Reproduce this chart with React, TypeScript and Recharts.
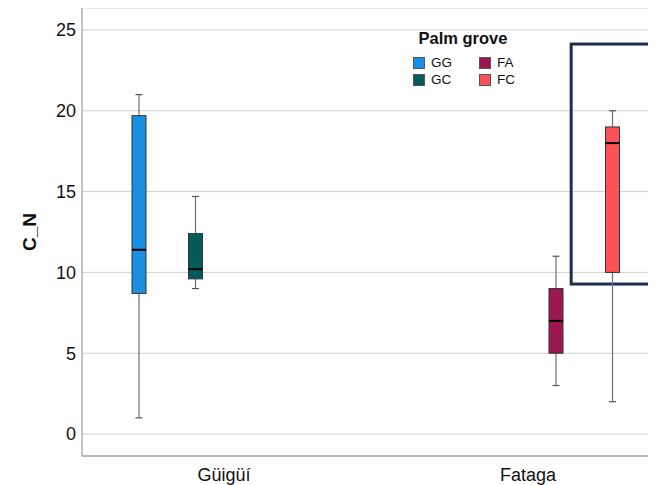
import React from "react";
import {
  ComposedChart,
  Bar,
  XAxis,
  YAxis,
  CartesianGrid,
  ReferenceArea,
} from "recharts";

const sites = ["Güigüí", "Fataga"];
const groves = ["GG", "GC", "FA", "FC"];
const groveSite = ["Güigüí", "Güigüí", "Fataga", "Fataga"];
const minVals = [1, 9, 3, 2];
const q1Vals = [8.7, 9.6, 5, 10];
const medianVals = [11.4, 10.2, 7, 18];
const q3Vals = [19.7, 12.4, 9, 19];
const maxVals = [21, 14.7, 11, 20];
const groveColors = ["#1a8fe3", "#055a5b", "#9c1652", "#fb5157"];
const yTicks = [0, 5, 10, 15, 20, 25];

// highlight frame drawn on the original figure (starts part way into the Fataga band)
const frameSite = "Fataga";
const frameStart = 0.642;
const frameY = [9.28, 24.13];

const FONT = "Arial, 'Liberation Sans', sans-serif";

type BoxStats = { min: number; q1: number; med: number; q3: number; max: number; box: [number, number] };

const data = sites.map((site) => {
  const row: Record<string, any> = { site };
  groves.forEach((g, i) => {
    if (groveSite[i] === site) {
      row[g] = {
        min: minVals[i],
        q1: q1Vals[i],
        med: medianVals[i],
        q3: q3Vals[i],
        max: maxVals[i],
        box: [q1Vals[i], q3Vals[i]],
      } as BoxStats;
    }
  });
  return row;
});

const makeBoxShape = (grove: string, color: string) => (props: any) => {
  const { x, y, width, height, payload } = props;
  const s: BoxStats | undefined = payload?.[grove];
  if (!s || !height) return <g />;
  const top = Math.min(y, y + height);
  const h = Math.abs(height);
  const k = h / (s.q3 - s.q1);
  const toY = (v: number) => top + (s.q3 - v) * k;
  const cx = x + width / 2;
  const cap = 3.5;
  return (
    <g>
      <line x1={cx} x2={cx} y1={toY(s.max)} y2={top} stroke="#707070" strokeWidth={1.2} />
      <line x1={cx} x2={cx} y1={top + h} y2={toY(s.min)} stroke="#707070" strokeWidth={1.2} />
      <line x1={cx - cap} x2={cx + cap} y1={toY(s.max)} y2={toY(s.max)} stroke="#555" strokeWidth={1.2} />
      <line x1={cx - cap} x2={cx + cap} y1={toY(s.min)} y2={toY(s.min)} stroke="#555" strokeWidth={1.2} />
      <rect x={x} y={top} width={width} height={h} fill={color} stroke="#333" strokeWidth={1} />
      <line x1={x} x2={x + width} y1={toY(s.med)} y2={toY(s.med)} stroke="#000" strokeWidth={2} />
    </g>
  );
};

const FrameShape = (props: any) => {
  const { x, y, width, height } = props;
  const left = x + width * frameStart;
  return (
    <rect
      x={left}
      y={y}
      width={x + width - left + 20}
      height={height}
      fill="none"
      stroke="#1f2d52"
      strokeWidth={3}
    />
  );
};

const GroveLegend = () => {
  const cols = [
    [0, 1],
    [2, 3],
  ];
  return (
    <div style={{ position: "absolute", left: 405, top: 21, width: 100, fontFamily: FONT, color: "#111" }}>
      <div style={{ fontWeight: "bold", fontSize: 16.5, lineHeight: "18px", textAlign: "center", whiteSpace: "nowrap" }}>
        Palm grove
      </div>
      <div style={{ display: "flex", marginTop: 7, width: 140 }}>
        {cols.map((col, ci) => (
          <div key={ci} style={{ flex: "0 0 66px" }}>
            {col.map((i) => (
              <div key={groves[i]} style={{ display: "flex", alignItems: "center", height: 17 }}>
                <span
                  style={{
                    display: "inline-block",
                    width: 12,
                    height: 12,
                    boxSizing: "border-box",
                    background: groveColors[i],
                    border: "1px solid #555",
                    marginRight: 6,
                  }}
                />
                <span style={{ fontSize: 13.5, lineHeight: "13px" }}>{groves[i]}</span>
              </div>
            ))}
          </div>
        ))}
      </div>
    </div>
  );
};

export default function App() {
  return (
    <div style={{ width: 648, height: 477, overflow: "hidden", position: "relative" }}>
      <ComposedChart
        width={672}
        height={477}
        data={data}
        margin={{ top: 0, right: 0, bottom: 0, left: 0 }}
        barSize={14}
        barGap={42.5}
      >
        <CartesianGrid horizontal vertical={false} stroke="#cfcfcf" strokeWidth={1} />
        <XAxis
          dataKey="site"
          type="category"
          height={29}
          padding={{ left: -10, right: 0 }}
          tickLine={false}
          tickSize={0}
          tickMargin={12}
          axisLine={{ stroke: "#8a8a8a" }}
          tick={{ fontSize: 18, fill: "#111", fontFamily: FONT }}
        />
        <YAxis
          width={74}
          domain={[-1.36, 26.36]}
          ticks={yTicks}
          tickLine={false}
          tickSize={0}
          tickMargin={6}
          axisLine={{ stroke: "#8a8a8a" }}
          tick={{ fontSize: 18, fill: "#111", fontFamily: FONT }}
          label={{
            value: "C_N",
            angle: -90,
            position: "center",
            dx: -16,
            style: { fontSize: 19, fontWeight: "bold", fill: "#111", fontFamily: FONT },
          }}
        />
        {groves.map((g, i) => (
          <Bar
            key={g}
            name={g}
            dataKey={(row: any) => row[g]?.box}
            fill={groveColors[i]}
            isAnimationActive={false}
            shape={makeBoxShape(g, groveColors[i])}
          />
        ))}
        <ReferenceArea
          x1={frameSite}
          x2={frameSite}
          y1={frameY[0]}
          y2={frameY[1]}
          ifOverflow="visible"
          shape={FrameShape}
        />
      </ComposedChart>
      <GroveLegend />
    </div>
  );
}
